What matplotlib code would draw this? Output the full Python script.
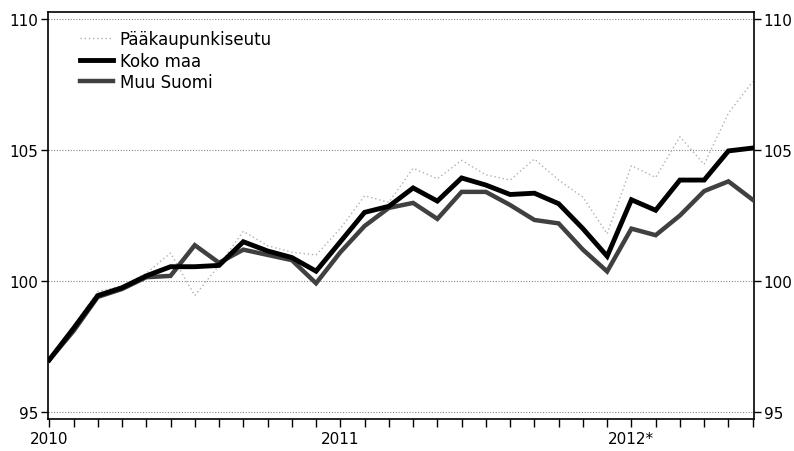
import matplotlib
matplotlib.use("Agg")
import matplotlib.pyplot as plt

plt.rcParams['font.family'] = ['DejaVu Sans']

months = list(range(30))  # Jan 2010 .. Jun 2012
koko_maa = [97.0, 98.2, 99.45, 99.75, 100.2, 100.55, 100.55, 100.6, 101.5, 101.15,
            100.9, 100.38, 101.5, 102.62, 102.85, 103.55, 103.05, 103.93, 103.66, 103.3,
            103.35, 102.95, 102.0, 100.95, 103.1, 102.7, 103.85, 103.85, 104.96, 105.07]
muu_suomi = [97.0, 98.1, 99.4, 99.7, 100.15, 100.2, 101.37, 100.7, 101.2, 101.0,
             100.8, 99.92, 101.1, 102.1, 102.79, 102.98, 102.37, 103.4, 103.4, 102.9,
             102.33, 102.2, 101.2, 100.37, 102.0, 101.75, 102.5, 103.43, 103.8, 103.1]
paakaupunkiseutu = [97.0, 98.3, 99.6, 99.8, 100.3, 101.07, 99.45, 100.6, 101.9, 101.35,
                    101.1, 101.0, 102.0, 103.25, 103.0, 104.3, 103.9, 104.6, 104.05, 103.85,
                    104.65, 103.85, 103.2, 101.8, 104.4, 103.95, 105.5, 104.45, 106.4, 107.6]
y_ticks = [95, 100, 105, 110]
x_tick_labels = {0: "2010", 12: "2011", 24: "2012*"}
legend_labels = ["Pääkaupunkiseutu", "Koko maa", "Muu Suomi"]

fig = plt.figure(figsize=(7.94, 4.52), dpi=100)
ax = fig.add_axes([0.0605, 0.0708, 0.889, 0.9004])

for yv in y_ticks:
    ax.axhline(yv, color='#888888', linestyle=(0, (1, 1.5)), linewidth=0.8, zorder=1)

l1, = ax.plot(months, paakaupunkiseutu, color='#b0b0b0', linestyle=(0, (1, 2)),
              linewidth=1.0, zorder=2, label=legend_labels[0])
l3, = ax.plot(months, muu_suomi, color='#404040', linewidth=3.2, zorder=3,
              solid_joinstyle='miter', label=legend_labels[2])
l2, = ax.plot(months, koko_maa, color='#000000', linewidth=3.5, zorder=4,
              solid_joinstyle='miter', label=legend_labels[1])

ax.set_xlim(-0.05, 29.05)
ax.set_ylim(94.75, 110.25)

ax.set_xticks(months)
ax.set_xticklabels([x_tick_labels.get(m, "") for m in months])
ax.set_yticks(y_ticks)
ax.set_yticklabels([str(v) for v in y_ticks])

ax.tick_params(axis='x', direction='out', length=6, width=1, pad=3, labelsize=11)
ax.tick_params(axis='y', direction='out', length=5, width=1, pad=2, labelsize=11,
               left=True, right=True, labelleft=True, labelright=True)

for s in ax.spines.values():
    s.set_linewidth(1.2)
    s.set_color('black')

leg = ax.legend(handles=[l1, l2, l3], loc='upper left', bbox_to_anchor=(0.045, 0.955),
                frameon=False, fontsize=12, handlelength=2.0, handletextpad=0.4,
                labelspacing=0.2, borderpad=0, borderaxespad=0)

fig.savefig("out.png", dpi=100)
